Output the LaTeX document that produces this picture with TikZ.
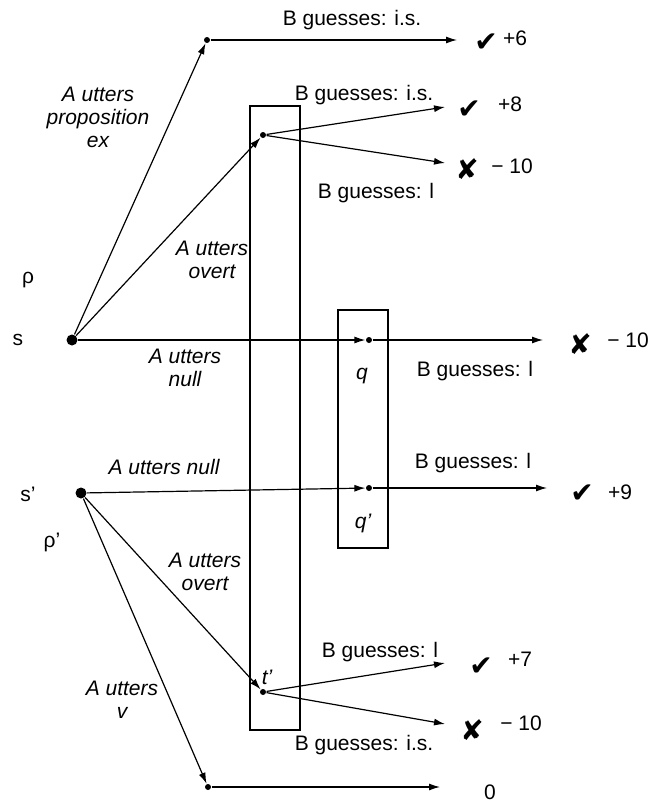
\documentclass[tikz,border=0pt]{standalone}
\usepackage{fontspec}
\setmainfont{Liberation Sans}
\newfontfamily\symfont{DejaVu Sans}
\usetikzlibrary{arrows.meta}

\begin{document}
\begin{tikzpicture}[x=0.5pt,y=-0.5pt,line width=0.6pt,
    every node/.style={font=\fontsize{10.5}{12}\selectfont},
    dot/.style={circle,fill,inner sep=0pt,minimum size=3pt},
    bigdot/.style={circle,fill,inner sep=0pt,minimum size=5.5pt},
    move/.style={-{Latex[length=5.5pt,width=3.5pt]}},
    act/.style={font=\fontsize{10.5}{11.5}\selectfont\itshape,align=center},
    sym/.style={font=\fontsize{14}{14}\symfont}]
    \useasboundingbox (0,0) rectangle (648,803);
    % Nodes
    \node[bigdot] (s) at (72,340) {};
    \node[bigdot] (sp) at (81,493) {};
    \node[dot] (a) at (207,40) {};
    \node[dot] (t) at (263,135) {};
    \node[dot] (q) at (369,340) {};
    \node[dot] (qp) at (369,488) {};
    \node[dot] (tp) at (263,692) {};
    \node[dot] (b) at (208,787) {};
    \coordinate (a1) at (457,40);
    \coordinate (t1) at (445,107);
    \coordinate (t2) at (445,163);
    \coordinate (q1) at (543,340);
    \coordinate (qp1) at (547,488);
    \coordinate (tp1) at (445,663);
    \coordinate (tp2) at (445,724);
    \coordinate (b1) at (440,787);
    % Information sets
    \draw (250,106) rectangle (300,730);
    \draw (338,310) rectangle (388,548);
    % Labels
    \node (ls) at (18,340) {s};
    \node (lrho) at (28,280) {ρ};
    \node (lsp) at (28,494) {s'};
    \node (lrhop) at (52,542) {ρ'};
    \node[act] (lq) at (362,376) {q};
    \node[act] (lqp) at (363,523) {q'};
    \node[act] (ltp) at (267,677) {t'};
    \node[act] (aex) at (98,117) {A utters\\proposition\\ex};
    \node[act] (aov) at (212,260) {A utters\\overt};
    \node[act] (anull) at (185,368) {A utters\\null};
    \node[act] (anullp) at (164,467) {A utters null};
    \node[act] (aovp) at (205,572) {A utters\\overt};
    \node[act] (av) at (122,700) {A utters\\v};
    \node (g1) at (352,20) {B guesses: i.s.};
    \node (g2) at (364,95) {B guesses: i.s.};
    \node (g3) at (376,193) {B guesses: l};
    \node (g4) at (475,371) {B guesses: l};
    \node (g5) at (473,463) {B guesses: l};
    \node (g6) at (380,652) {B guesses: l};
    \node (g7) at (364,745) {B guesses: i.s.};
    % Payoffs
    \node[sym] (c1) at (486,43) {✔};
    \node (p1) at (515,38) {+6};
    \node[sym] (c2) at (469,110) {✔};
    \node (p2) at (510,104) {+8};
    \node[sym] (c3) at (467,169) {✘};
    \node (p3) at (512,166) {− 10};
    \node[sym] (c4) at (580,344) {✘};
    \node (p4) at (628,340) {− 10};
    \node[sym] (c5) at (582,494) {✔};
    \node (p5) at (620,492) {+9};
    \node[sym] (c6) at (481,667) {✔};
    \node (p6) at (520,659) {+7};
    \node[sym] (c7) at (472,730) {✘};
    \node (p7) at (521,723) {− 10};
    \node (p8) at (490,792) {0};
    % Edges
    \draw[move] (s) -- (a);
    \draw[move] (s) -- (t);
    \draw[move] (s) -- (q);
    \draw[move] (sp) -- (qp);
    \draw[move] (sp) -- (tp);
    \draw[move] (sp) -- (b);
    \draw[move] (a) -- (a1);
    \draw[move] (t) -- (t1);
    \draw[move] (t) -- (t2);
    \draw[move] (q) -- (q1);
    \draw[move] (qp) -- (qp1);
    \draw[move] (tp) -- (tp1);
    \draw[move] (tp) -- (tp2);
    \draw[move] (b) -- (b1);
\end{tikzpicture}
\end{document}
